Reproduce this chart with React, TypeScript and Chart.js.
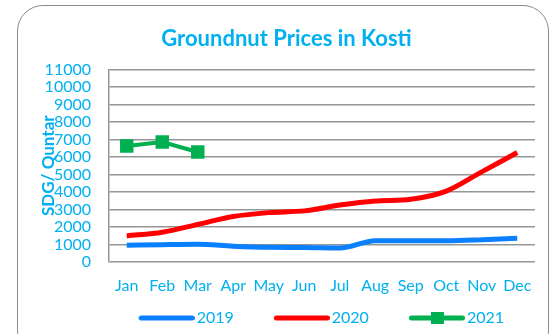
import React, { useEffect, useRef } from "react";
import { Chart, registerables } from "chart.js";

Chart.register(...registerables);

const months = ["Jan", "Feb", "Mar", "Apr", "May", "Jun", "Jul", "Aug", "Sep", "Oct", "Nov", "Dec"];
const prices2019 = [960, 990, 1010, 900, 840, 830, 800, 1220, 1210, 1210, 1270, 1360];
const prices2020 = [1490, 1700, 2150, 2600, 2820, 2920, 3250, 3480, 3580, 4050, 5150, 6250];
const prices2021: (number | null)[] = [6620, 6850, 6280, null, null, null, null, null, null, null, null, null];
const yTicks = [0, 1000, 2000, 3000, 4000, 5000, 6000, 7000, 8000, 9000, 10000, 11000];

const BLUE = "#0a80ff";
const RED = "#ff0000";
const GREEN = "#00b050";
const CYAN = "#00b0f0";
const FONT = "Lato, 'Open Sans', sans-serif";

// Legend symbol box and the thick line drawn at its right end (slightly overhanging).
const BOX_W = 82;
const OVERHANG = 6;
const LINE_LEN = 56;
function legendIcon(color: string, marker: boolean): HTMLCanvasElement {
  const c = document.createElement("canvas");
  c.width = BOX_W + OVERHANG * 2;
  c.height = 14;
  const ctx = c.getContext("2d")!;
  const x1 = c.width - LINE_LEN + 2.5;
  const x2 = c.width - 2.5;
  ctx.strokeStyle = color;
  ctx.lineWidth = 5;
  ctx.lineCap = "round";
  ctx.beginPath();
  ctx.moveTo(x1, 7);
  ctx.lineTo(x2, 7);
  ctx.stroke();
  if (marker) {
    ctx.fillStyle = color;
    const mid = (x1 + x2) / 2;
    ctx.fillRect(Math.round(mid - 6.5), 1, 13, 12);
  }
  return c;
}

// Pulls the legend row in from the right edge and nudges it down a little.
const legendInset = {
  id: "legendInset",
  afterLayout(chart: any) {
    const l = chart.legend;
    if (l) {
      l.right -= 23;
      l.width -= 23;
      l.top += 2;
      l.bottom += 2;
    }
  },
};

export default function App() {
  const ref = useRef<HTMLCanvasElement>(null);

  useEffect(() => {
    const icons = [legendIcon(BLUE, false), legendIcon(RED, false), legendIcon(GREEN, true)];
    const chart = new Chart(ref.current!, {
      type: "line",
      data: {
        labels: months,
        datasets: [
          {
            label: "2019",
            data: prices2019,
            borderColor: BLUE,
            backgroundColor: BLUE,
            borderWidth: 5,
            pointRadius: 0,
            tension: 0.4,
            cubicInterpolationMode: "monotone",
          },
          {
            label: "2020",
            data: prices2020,
            borderColor: RED,
            backgroundColor: RED,
            borderWidth: 5,
            pointRadius: 0,
            tension: 0.4,
            cubicInterpolationMode: "monotone",
          },
          {
            label: "2021",
            data: prices2021,
            borderColor: GREEN,
            backgroundColor: GREEN,
            borderWidth: 4,
            pointStyle: "rect",
            pointRadius: 9.5,
            pointBorderWidth: 0,
            tension: 0,
          },
        ],
      },
      options: {
        responsive: false,
        animation: false,
        layout: { padding: { left: 38, right: 15, top: 0, bottom: 0 } },
        plugins: {
          tooltip: { enabled: false },
          title: {
            display: true,
            text: "Groundnut Prices in Kosti",
            color: CYAN,
            font: { family: FONT, size: 22, weight: "bold" },
            padding: { top: 26, bottom: 17 },
          },
          legend: {
            position: "bottom",
            align: "end",
            labels: {
              usePointStyle: true,
              pointStyleWidth: BOX_W,
              padding: 8,
              color: CYAN,
              font: { family: FONT, size: 16 },
              generateLabels: (c: any) => {
                const items = Chart.defaults.plugins.legend.labels.generateLabels(c);
                items.forEach((it: any, i: number) => {
                  it.pointStyle = icons[i];
                });
                return items;
              },
            },
          },
        },
        scales: {
          x: {
            offset: true,
            grid: { display: false, drawTicks: false },
            border: { display: false },
            ticks: {
              color: CYAN,
              font: { family: FONT, size: 16 },
              padding: 14,
              maxRotation: 0,
              autoSkip: false,
            },
            afterFit: (s: any) => {
              s.height = 38;
            },
          },
          y: {
            min: 0,
            max: 11000,
            afterBuildTicks: (s: any) => {
              s.ticks = yTicks.map((v) => ({ value: v }));
            },
            grid: { color: "#969696", lineWidth: 1.5, drawTicks: false },
            border: { display: true, color: "#969696", width: 1.5 },
            ticks: {
              color: CYAN,
              font: { family: FONT, size: 16 },
              padding: 18,
              autoSkip: false,
              callback: (v: any) => String(v),
            },
            title: {
              display: true,
              text: "SDG/ Quntar",
              color: CYAN,
              font: { family: FONT, size: 17, weight: "bold" },
              padding: 0,
            },
            afterFit: (s: any) => {
              s.width = 71;
            },
          },
        },
      },
      plugins: [legendInset],
    });
    return () => chart.destroy();
  }, []);

  return (
    <div
      style={{
        position: "fixed",
        left: 0,
        top: 0,
        width: 550,
        height: 334,
        background: "#fff",
        overflow: "hidden",
      }}
    >
      <div
        style={{
          position: "absolute",
          left: 17,
          top: 5,
          width: 530,
          height: 350,
          border: "1.5px solid #8c8c8c",
          borderRadius: 26,
        }}
      />
      <canvas ref={ref} width={550} height={334} style={{ position: "absolute", left: 0, top: 0 }} />
    </div>
  );
}
